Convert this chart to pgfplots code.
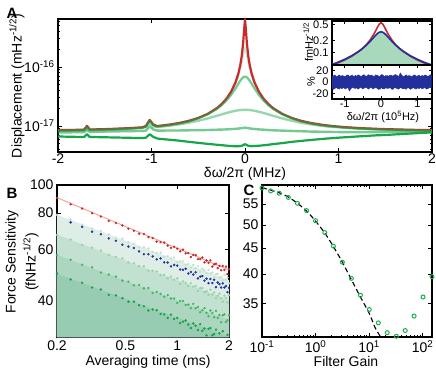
\documentclass[border=0pt]{standalone}
\usepackage{fontspec}
\setmainfont{Liberation Sans}
\usepackage{pgfplots}
\usepackage{pgfplotstable}
\pgfplotsset{compat=1.18}

\definecolor{cred}{HTML}{C92A2A}
\definecolor{cblue}{HTML}{23309B}
\definecolor{cgreen}{HTML}{17A64A}
\definecolor{fitred}{HTML}{F2A4A0}
\definecolor{fillA}{HTML}{DEEEE6}
\definecolor{fillB}{HTML}{C2E1D1}
\definecolor{fillC}{HTML}{ACD6C0}
\definecolor{fillD}{HTML}{98CCB2}
\definecolor{dpale}{HTML}{C2E2CA}
\definecolor{dlight}{HTML}{96D2A8}
\definecolor{dmid}{HTML}{3DB862}
\definecolor{ddark}{HTML}{10A443}
\definecolor{insfill}{HTML}{A9D9BD}
\definecolor{circ}{HTML}{1FAE4F}

\newcommand{\lab}{\fontsize{14}{15.5}\selectfont}
\newcommand{\inslab}{\fontsize{11}{12}\selectfont}

\pgfplotsset{
  mat/.style={
    scale only axis,
    axis line style={line width=1.4pt},
    tick align=inside,
    major tick length=4pt,
    minor tick length=2.2pt,
    every tick/.style={black, line width=0.7pt},
    every tick label/.append style={font=\lab},
    /pgf/number format/assume math mode=true,
  },
  inset/.style={
    every tick label/.append style={font=\inslab},
    xticklabel style={inner sep=1pt},
    major tick length=3pt,
    axis line style={line width=1.2pt},
    axis background/.style={fill=white},
  },
}

% displacement spectra (A), units of 1e-17
\pgfplotstableread{
x R G1 G2 G3 G4 G5
-2 .846 .838 .83 .828 .77 .66
-1.9 .851 .843 .835 .833 .775 .655
-1.8 .856 .848 .84 .838 .78 .65
-1.72 .862 .854 .846 .845 .785 .648
-1.69 1.0 .99 .98 .92 .85 .72
-1.66 .866 .858 .85 .85 .79 .646
-1.6 .871 .863 .855 .853 .79 .645
-1.5 .880 .872 .865 .862 .80 .64
-1.4 .891 .882 .875 .873 .805 .635
-1.3 .905 .896 .89 .886 .81 .63
-1.2 .922 .913 .905 .902 .815 .625
-1.1 .943 .934 .925 .921 .82 .62
-1.06 .99 .98 .97 .96 .83 .63
-1.02 1.26 1.25 1.24 1.12 .98 .72
-0.98 1.05 1.04 1.03 .98 .87 .65
-0.94 .99 .985 .975 .96 .83 .61
-0.9 1.007 1.0 .99 .967 .83 .60
-0.8 1.055 1.045 1.035 1.010 .835 .58
-0.7 1.121 1.11 1.10 1.064 .835 .56
-0.6 1.217 1.205 1.19 1.132 .84 .535
-0.5 1.360 1.35 1.35 1.221 .845 .515
-0.4 1.591 1.58 1.57 1.336 .85 .495
-0.3 2.0 1.98 1.94 1.483 .86 .478
-0.25 2.341 2.32 2.24 1.566 .865 .47
-0.2 2.864 2.84 2.67 1.651 .87 .462
-0.15 3.753 3.70 3.33 1.735 .88 .455
-0.1 5.535 5.38 4.35 1.805 .89 .45
-0.07 7.84 7.38 5.20 1.837 .90 .45
-0.05 10.87 9.74 5.84 1.853 .91 .455
-0.035 15.29 12.54 6.29 1.862 .915 .46
-0.02 25.3 16.54 6.65 1.867 .92 .47
-0.01 41.9 19.37 6.80 1.869 .925 .48
0 64.7 20.7 6.85 1.87 .935 .49
0.01 41.9 19.37 6.80 1.869 .925 .48
0.02 25.3 16.54 6.65 1.867 .92 .47
0.035 15.29 12.54 6.29 1.862 .915 .46
0.05 10.87 9.74 5.84 1.853 .905 .455
0.07 7.84 7.38 5.20 1.837 .895 .452
0.1 5.535 5.38 4.35 1.805 .885 .455
0.15 3.753 3.70 3.33 1.735 .87 .46
0.2 2.864 2.84 2.67 1.651 .86 .468
0.25 2.341 2.32 2.24 1.566 .85 .478
0.3 2.0 1.98 1.94 1.483 .84 .49
0.4 1.591 1.58 1.57 1.336 .83 .51
0.5 1.360 1.35 1.35 1.221 .82 .535
0.6 1.217 1.205 1.19 1.132 .81 .555
0.7 1.121 1.11 1.10 1.064 .80 .575
0.8 1.055 1.045 1.035 1.010 .795 .595
0.9 1.007 1.0 .99 .967 .79 .613
1.0 .971 .962 .955 .946 .785 .63
1.1 .943 .934 .925 .921 .783 .645
1.2 .922 .913 .905 .902 .782 .66
1.3 .905 .896 .89 .886 .782 .675
1.4 .891 .882 .875 .873 .783 .69
1.5 .880 .872 .865 .862 .785 .70
1.6 .871 .863 .855 .853 .787 .715
1.7 .863 .855 .848 .845 .79 .73
1.8 .856 .848 .84 .838 .793 .745
1.9 .851 .843 .835 .833 .797 .76
2.0 .846 .838 .83 .828 .80 .775
}\spectra

% inset spectra
\pgfplotstableread{
x R B
-1.35 .0495 .0517
-1.2 .0556 .0579
-1.0 .0666 .0691
-0.8 .0829 .0853
-0.6 .110 .111
-0.5 .130 .130
-0.4 .160 .156
-0.3 .207 .192
-0.2 .286 .241
-0.15 .347 .270
-0.1 .425 .299
-0.05 .509 .321
0 .55 .33
0.05 .509 .321
0.1 .425 .299
0.15 .347 .270
0.2 .286 .241
0.3 .207 .192
0.4 .160 .156
0.5 .130 .130
0.6 .110 .111
0.8 .0829 .0853
1.0 .0666 .0691
1.2 .0556 .0579
1.39 .0482 .0503
}\insetdata

\begin{document}
\begin{tikzpicture}[font=\lab]
\useasboundingbox (0pt,0pt) rectangle (436pt,-370pt);

% ---------- A ----------
\begin{axis}[mat, at={(58pt,-152pt)}, anchor=south west, width=374pt, height=133pt,
  xmin=-2, xmax=2, ymode=log, ymin=0.36, ymax=65,
  xtick={-2,-1,0,1,2}, xticklabels={-2,-1,0,1,2},
  xticklabel style={inner sep=1.5pt},
  ytick={1,10}, yticklabels={10\textsuperscript{-17},10\textsuperscript{-16}},
  minor ytick={0.4,0.5,0.6,0.7,0.8,0.9,2,3,4,5,6,7,8,9,20,30,40,50,60},
  every axis plot/.append style={line join=round}]
\addplot[cgreen, line width=2.2pt] table[y=G5] {\spectra};
\addplot[cgreen, opacity=0.6, line width=2.4pt] table[y=G4] {\spectra};
\addplot[cgreen, opacity=0.45, line width=2.4pt] table[y=G3] {\spectra};
\addplot[cgreen, opacity=0.25, line width=2.4pt] table[y=G1] {\spectra};
\addplot[cred, line width=2.2pt] table[y=R] {\spectra};
\addplot[cgreen, opacity=0.6, line width=2.2pt] table[y=G2] {\spectra};
\end{axis}

% inset, top
\begin{axis}[mat, inset, at={(332pt,-65pt)}, anchor=south west, width=99.5pt, height=44pt,
  xmin=-1.35, xmax=1.39, ymode=log, ymin=0.05, ymax=0.61,
  xtick={-1,-0.5,0,0.5,1}, xticklabels={},
  ytick={0.1,0.2,0.5}, yticklabels={0.1,0.2,0.5}]
\addplot[draw=none, fill=insfill] coordinates {
  (-1.35,.0517) (-1.2,.0579) (-1.0,.0691) (-0.8,.0853) (-0.6,.111) (-0.5,.130)
  (-0.4,.156) (-0.3,.192) (-0.2,.241) (-0.15,.270) (-0.1,.299) (-0.05,.321) (0,.33)
  (0.05,.321) (0.1,.299) (0.15,.270) (0.2,.241) (0.3,.192) (0.4,.156) (0.5,.130)
  (0.6,.111) (0.8,.0853) (1.0,.0691) (1.2,.0579) (1.39,.0503) (1.39,.045) (-1.35,.045)};
\addplot[cred, line width=1.6pt] table[y=R] {\insetdata};
\addplot[cblue, line width=1.6pt] table[y=B] {\insetdata};
\end{axis}

% inset, residuals (noise band: upper edge, then lower edge back)
\begin{axis}[mat, inset, at={(332pt,-99pt)}, anchor=south west, width=99.5pt, height=34pt,
  xmin=-1.35, xmax=1.39, ymin=-30, ymax=30,
  xtick={-1,-0.5,0,0.5,1}, xticklabels={-1,,0,,1},
  ytick={-20,0,20}, yticklabels={-20,0,20}]
\addplot[cblue, fill=cblue, line width=0.4pt] coordinates {
  (-1.35,9.8) (-1.31,11) (-1.27,12.2) (-1.23,9.4) (-1.19,10.6) (-1.15,12.6)
  (-1.11,10.2) (-1.07,11.4) (-1.03,10.6) (-0.99,9.4) (-0.95,11.8) (-0.91,12.6)
  (-0.87,9.8) (-0.83,11) (-0.79,12.2) (-0.75,9) (-0.71,11.8) (-0.67,10.2)
  (-0.63,12.6) (-0.59,11.4) (-0.55,9.8) (-0.51,11.4) (-0.47,13) (-0.43,10.6)
  (-0.39,10.2) (-0.35,13) (-0.31,11) (-0.27,12.2) (-0.23,11) (-0.19,9.4)
  (-0.15,12.6) (-0.11,11.8) (-0.07,10.6) (-0.03,9.8) (0.01,13) (0.05,12.6)
  (0.09,9.4) (0.13,11.4) (0.17,11.4) (0.21,10.2) (0.25,12.2) (0.29,11.8)
  (0.33,10.2) (0.37,12.6) (0.41,13) (0.45,11) (0.49,9.8) (0.53,16)
  (0.57,12.2) (0.61,9.4) (0.65,10.6) (0.69,12.6) (0.73,10.2) (0.77,11.4)
  (0.81,10.6) (0.85,9.4) (0.89,11.8) (0.93,12.6) (0.97,9.8) (1.01,11)
  (1.05,12.2) (1.09,9) (1.13,11.8) (1.17,10.2) (1.21,12.6) (1.25,11.4)
  (1.29,9.8) (1.33,11.4) (1.37,13) (1.41,10.6)
  (1.41,-11.4) (1.37,-10.6) (1.33,-9.4) (1.29,-11.8) (1.25,-12.6) (1.21,-9.8)
  (1.17,-11) (1.13,-12.2) (1.09,-9) (1.05,-11.8) (1.01,-10.2) (0.97,-12.6)
  (0.93,-11.4) (0.89,-9.8) (0.85,-11.4) (0.81,-13) (0.77,-10.6) (0.73,-10.2)
  (0.69,-13) (0.65,-11) (0.61,-12.2) (0.57,-11) (0.53,-9.4) (0.49,-12.6)
  (0.45,-11.8) (0.41,-10.6) (0.37,-9.8) (0.33,-13) (0.29,-12.6) (0.25,-9.4)
  (0.21,-11.4) (0.17,-11.4) (0.13,-10.2) (0.09,-12.2) (0.05,-11.8) (0.01,-10.2)
  (-0.03,-12.6) (-0.07,-13) (-0.11,-11) (-0.15,-9.8) (-0.19,-11) (-0.23,-12.2)
  (-0.27,-9.4) (-0.31,-10.6) (-0.35,-12.6) (-0.39,-10.2) (-0.43,-9.8) (-0.47,-11)
  (-0.51,-12.2) (-0.55,-9.4) (-0.59,-10.6) (-0.63,-12.6) (-0.67,-10.2) (-0.71,-11.4)
  (-0.75,-10.6) (-0.79,-9.4) (-0.83,-11.8) (-0.87,-16) (-0.91,-9.8) (-0.95,-11)
  (-0.99,-12.2) (-1.03,-9) (-1.07,-11.8) (-1.11,-10.2) (-1.15,-12.6) (-1.19,-11.4)
  (-1.23,-9.8) (-1.27,-11.4) (-1.31,-13) (-1.35,-10.6)};
\end{axis}

% ---------- B ----------
\begin{axis}[mat, at={(57pt,-337pt)}, anchor=south west, width=172pt, height=152pt,
  xmode=log, ymode=log, xmin=0.2, xmax=2, ymin=30, ymax=100,
  xtick={0.2,0.5,1,2}, xticklabels={0.2,0.5,1,2},
  ytick={40,60,80,100}, yticklabels={40,60,80,100}]
\addplot[draw=none, fill=fillA] coordinates {(0.2,79) (2,47.1) (2,30) (0.2,30)};
\addplot[draw=none, fill=fillB] coordinates {(0.2,67.5) (2,40.2) (2,30) (0.2,30)};
\addplot[draw=none, fill=fillC] coordinates {(0.2,57.5) (2,34.3) (2,30) (0.2,30)};
\addplot[draw=none, fill=fillD] coordinates {(0.2,49.5) (2,30.1) (2,30) (0.2,30)};
\addplot[fitred, line width=1pt] coordinates {(0.2,90.5) (2,51)};
\addplot[only marks, mark=*, mark size=1pt, dpale] coordinates {
(0.2,79.0)(0.24,76.1)(0.28,73.1)(0.32,70.7)(0.36,69.5)(0.4,67.7)(0.44,65.9)(0.48,65.4)(0.52,63.5)(0.56,62.8)(0.6,61.1)(0.64,61.1)(0.68,60.5)(0.72,58.9)(0.76,58.4)(0.8,58.5)(0.84,56.7)(0.88,56.9)(0.92,55.9)(0.96,56.3)(1.0,54.3)(1.04,54.6)(1.08,54.6)(1.12,53.1)(1.16,53.5)(1.2,52.0)(1.24,53.1)(1.28,51.7)(1.32,52.6)(1.36,50.3)(1.4,51.5)(1.44,50.9)(1.48,49.8)(1.52,51.0)(1.56,49.6)(1.6,50.0)(1.64,48.1)(1.68,49.3)(1.72,49.5)(1.76,47.9)(1.8,48.3)(1.84,47.0)(1.88,49.0)(1.92,47.2)(1.96,48.0)(2.0,45.9)};
\addplot[only marks, mark=*, mark size=1pt, dlight] coordinates {
(0.2,67.4)(0.24,64.9)(0.28,62.2)(0.32,60.9)(0.36,59.5)(0.4,57.5)(0.44,56.5)(0.48,55.9)(0.52,54.1)(0.56,53.8)(0.6,52.6)(0.64,52.5)(0.68,50.7)(0.72,50.7)(0.76,50.4)(0.8,49.0)(0.84,49.1)(0.88,47.8)(0.92,48.4)(0.96,47.2)(1.0,47.7)(1.04,45.7)(1.08,46.6)(1.12,46.0)(1.16,45.0)(1.2,45.9)(1.24,44.7)(1.28,44.9)(1.32,43.2)(1.36,44.2)(1.4,44.2)(1.44,42.8)(1.48,43.1)(1.52,41.9)(1.56,43.6)(1.6,42.0)(1.64,42.7)(1.68,40.8)(1.72,41.6)(1.76,42.3)(1.8,40.8)(1.84,39.7)(1.88,41.6)(1.92,40.9)(1.96,39.5)(2.0,41.7)};
\addplot[only marks, mark=*, mark size=1pt, dmid] coordinates {
(0.2,57.3)(0.24,55.3)(0.28,53.2)(0.32,52.1)(0.36,50.0)(0.4,49.2)(0.44,48.4)(0.48,46.9)(0.52,46.5)(0.56,45.2)(0.6,45.3)(0.64,44.1)(0.68,44.2)(0.72,42.5)(0.76,42.9)(0.8,42.2)(0.84,41.3)(0.88,41.8)(0.92,40.7)(0.96,40.7)(1.0,39.3)(1.04,39.9)(1.08,39.9)(1.12,38.7)(1.16,38.8)(1.2,37.7)(1.24,39.0)(1.28,37.7)(1.32,38.1)(1.36,36.5)(1.4,37.1)(1.44,37.7)(1.48,36.3)(1.52,35.4)(1.56,37.0)(1.6,36.3)(1.64,35.1)(1.68,36.9)(1.72,34.9)(1.76,35.7)(1.8,33.7)(1.84,35.6)(1.88,35.9)(1.92,33.8)(1.96,34.3)(2.0,35.6)};
\addplot[only marks, mark=*, mark size=1pt, ddark] coordinates {
(0.2,49.6)(0.24,47.3)(0.28,46.1)(0.32,44.4)(0.36,43.7)(0.4,41.9)(0.44,41.7)(0.48,40.8)(0.52,39.7)(0.56,39.7)(0.6,38.6)(0.64,38.3)(0.68,37.0)(0.72,37.3)(0.76,37.1)(0.8,36.0)(0.84,35.9)(0.88,34.9)(0.92,35.8)(0.96,34.6)(1.0,34.9)(1.04,33.5)(1.08,33.9)(1.12,34.2)(1.16,33.1)(1.2,32.2)(1.24,33.4)(1.28,32.8)(1.32,31.7)(1.36,33.2)(1.4,31.5)(1.44,32.1)(1.48,30.4)(1.52,32.0)(1.56,32.2)(1.6,30.4)(1.64,30.7)(1.68,31.8)(1.76,30.9)(1.84,31.4)(1.96,30.5)};
\addplot[only marks, mark=*, mark size=1pt, cblue] coordinates {
(0.24,74.4)(0.28,71.8)(0.32,69.1)(0.36,67.7)(0.4,65.5)(0.44,64.3)(0.48,62.3)(0.52,61.4)(0.56,60.7)(0.6,59.1)(0.64,57.8)(0.68,57.8)(0.72,56.8)(0.76,55.5)(0.8,55.9)(0.84,54.2)(0.88,54.1)(0.92,52.5)(0.96,53.1)(1.0,52.8)(1.04,51.2)(1.08,51.1)(1.12,51.5)(1.16,49.6)(1.2,50.2)(1.24,49.2)(1.28,50.1)(1.32,47.7)(1.36,48.4)(1.4,48.6)(1.44,46.9)(1.48,47.6)(1.52,46.0)(1.56,47.5)(1.6,46.0)(1.64,47.2)(1.68,44.5)(1.72,46.2)(1.76,45.6)(1.8,44.4)(1.84,45.9)(1.88,44.4)(1.92,44.9)(1.96,42.8)(2.0,44.3)};
\addplot[only marks, mark=*, mark size=1pt, cred] coordinates {
(0.2,90.1)(0.24,85.8)(0.28,83.0)(0.32,80.0)(0.36,77.9)(0.4,75.3)(0.44,74.0)(0.48,72.6)(0.52,70.7)(0.56,69.6)(0.6,68.0)(0.64,67.8)(0.68,66.2)(0.72,65.7)(0.76,63.9)(0.8,63.6)(0.84,63.4)(0.88,61.9)(0.92,60.8)(0.96,61.3)(1.0,60.4)(1.04,59.1)(1.08,59.9)(1.12,58.2)(1.16,58.3)(1.2,56.5)(1.24,57.5)(1.28,57.4)(1.32,55.6)(1.36,55.6)(1.4,56.3)(1.44,54.2)(1.48,55.0)(1.52,54.0)(1.56,55.1)(1.6,52.4)(1.64,53.3)(1.68,53.6)(1.72,51.8)(1.76,52.7)(1.8,50.9)(1.84,52.7)(1.88,51.0)(1.92,52.4)(1.96,49.4)(2.0,51.4)};
\end{axis}

% ---------- C ----------
\begin{axis}[mat, at={(262pt,-337pt)}, anchor=south west, width=170pt, height=152pt,
  xmode=log, ymode=log, xmin=0.1, xmax=150, ymin=30, ymax=60, clip=false,
  xtick={0.1,1,10,100},
  xticklabels={10\textsuperscript{-1},10\textsuperscript{0},10\textsuperscript{1},10\textsuperscript{2}},
  minor xtick={0.2,0.3,0.4,0.5,0.6,0.7,0.8,0.9,2,3,4,5,6,7,8,9,20,30,40,50,60,70,80,90},
  ytick={35,40,45,50,55}, yticklabels={35,40,45,50,55}]
\addplot[black, dash pattern=on 5pt off 3pt, line width=1.1pt, smooth] coordinates {
  (0.1,59.3) (0.146,58.6) (0.21,57.9) (0.31,56.8) (0.46,55.2) (0.68,53.3) (1.0,50.9)
  (1.49,48.2) (2.16,45.3) (3.17,42.2) (4.67,39.0) (6.9,36.0) (10.1,33.4) (13,31.3) (16.5,30)};
\addplot[only marks, mark=o, mark size=2pt, circ, mark options={line width=1pt}] coordinates {
  (0.1,59.2) (0.145,58.4) (0.21,57.8) (0.31,56.7) (0.46,55.2) (0.68,53.4) (1.0,51.0)
  (1.49,48.3) (2.16,45.4) (3.17,42.2) (4.67,39.2) (6.9,36.3) (10.1,34.0) (14.9,32.0)
  (21.9,30.6) (32.4,30.1) (47.4,30.9) (69.4,33.0) (102,36.0) (150,39.5)};
\end{axis}

% ---------- labels ----------
\node[font=\fontsize{15}{16}\selectfont\bfseries] at (12pt,-13pt) {A};
\node[font=\fontsize{15}{16}\selectfont\bfseries] at (12pt,-193pt) {B};
\node[font=\fontsize{15}{16}\selectfont\bfseries] at (249pt,-190pt) {C};
\node[rotate=90] at (17pt,-86pt) {Displacement (mHz\textsuperscript{-1/2})};
\node[inner sep=1pt] at (245pt,-174pt) {δω/2π (MHz)};
\node[rotate=90, align=center, font=\fontsize{14}{20}\selectfont] at (22pt,-262pt) {Force Sensitivity\\(fNHz\textsuperscript{-1/2})};
\node at (148pt,-362pt) {Averaging time (ms)};
\node at (346pt,-361pt) {Filter Gain};
\node[rotate=90, font=\inslab] at (308pt,-42pt) {fmHz\textsuperscript{-1/2}};
\node[rotate=90, font=\inslab] at (311pt,-82pt) {\%};
\node[font=\inslab, inner sep=1pt] at (383pt,-117pt) {δω/2π (10\textsuperscript{5}Hz)};
\end{tikzpicture}
\end{document}
